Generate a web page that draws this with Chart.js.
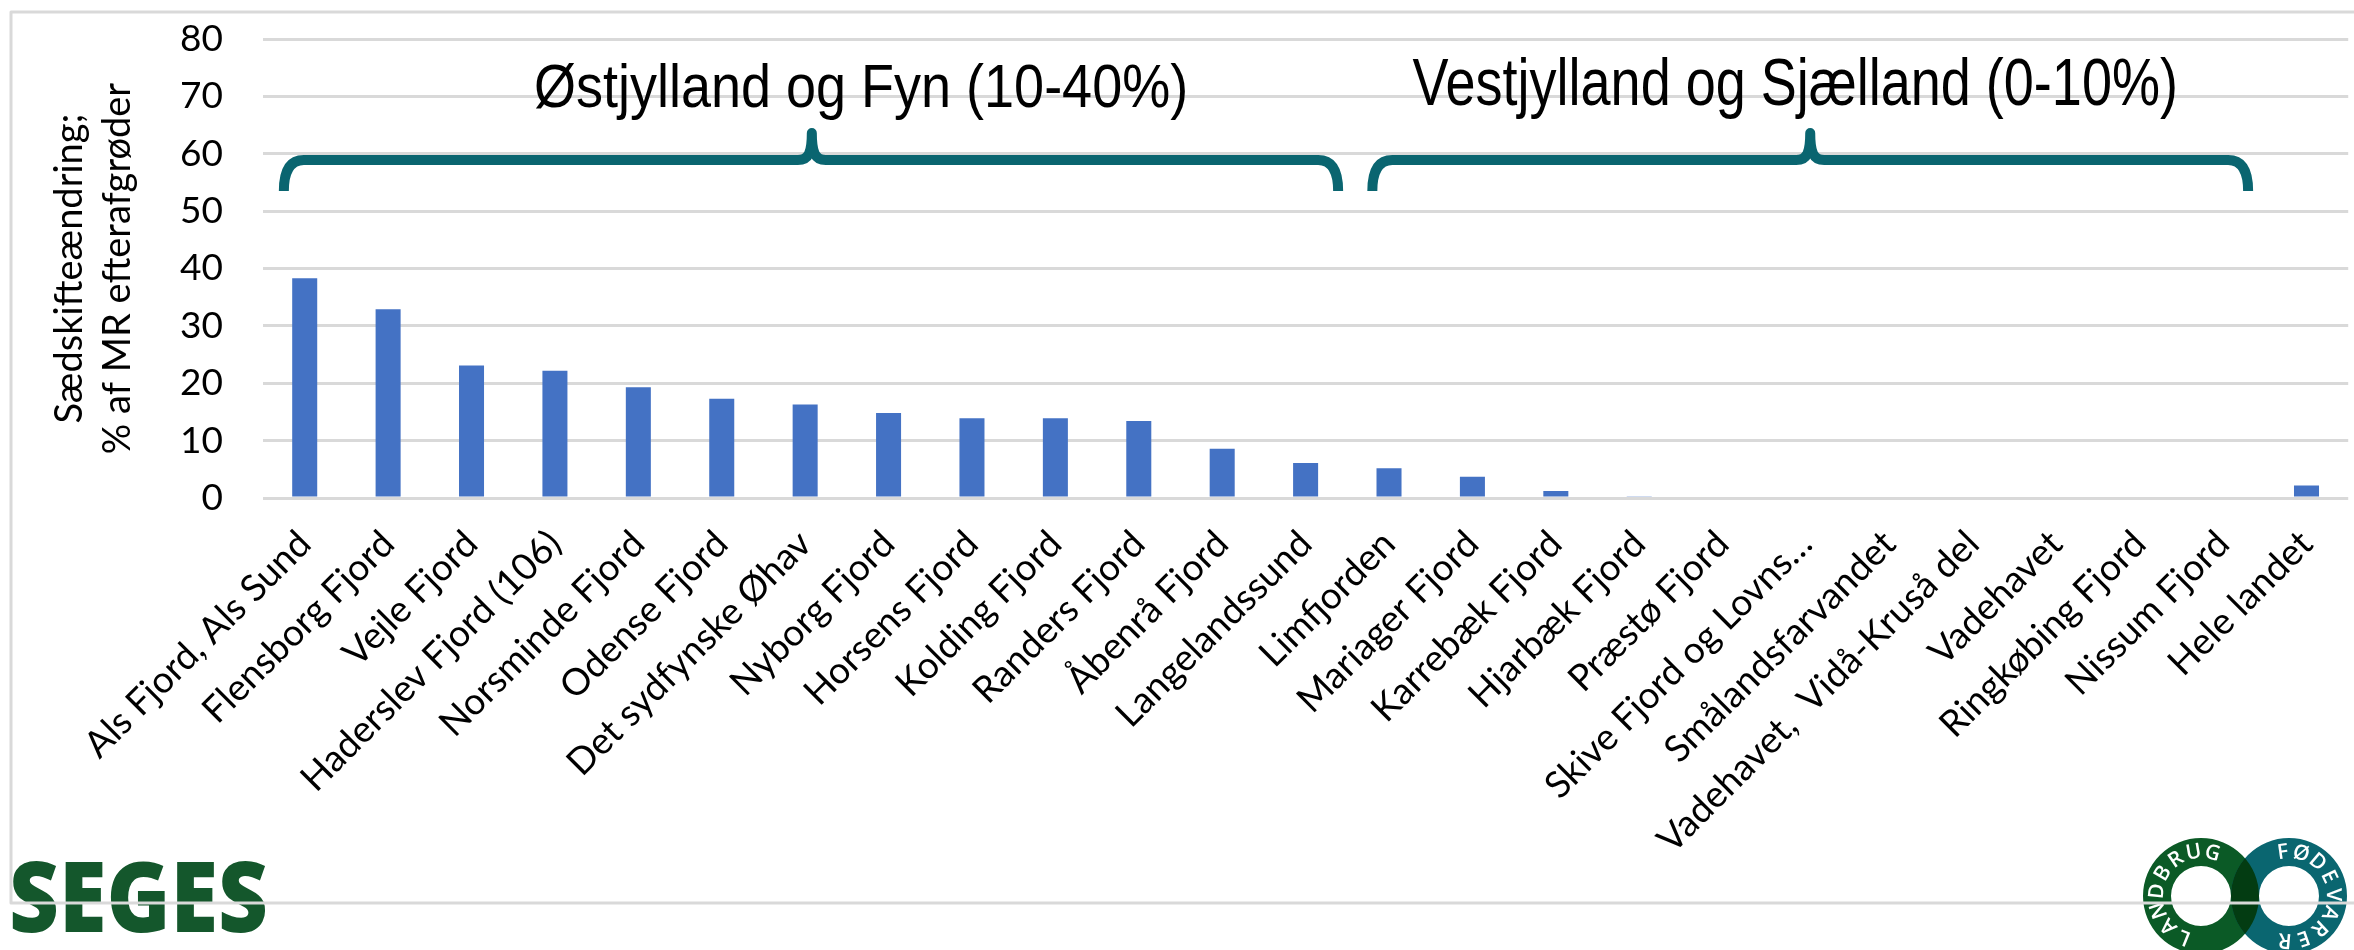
<!DOCTYPE html>
<html>
<head>
<meta charset="utf-8">
<script src="https://cdn.jsdelivr.net/npm/chart.js@4.4.1/dist/chart.umd.min.js"></script>
<style>
  html, body { margin: 0; padding: 0; background: #fff; }
  canvas { display: block; }
</style>
</head>
<body>
<canvas id="myChart" width="2354" height="950"></canvas>
<script>
const categories = [
    'Als Fjord, Als Sund', 'Flensborg Fjord', 'Vejle Fjord', 'Haderslev Fjord (106)',
    'Norsminde Fjord', 'Odense Fjord', 'Det sydfynske Øhav', 'Nyborg Fjord',
    'Horsens Fjord', 'Kolding Fjord', 'Randers Fjord', 'Åbenrå Fjord',
    'Langelandssund', 'Limfjorden', 'Mariager Fjord', 'Karrebæk Fjord',
    'Hjarbæk Fjord', 'Præstø Fjord', 'Skive Fjord og Lovns…', 'Smålandsfarvandet',
    'Vadehavet,  Vidå-Kruså del', 'Vadehavet', 'Ringkøbing Fjord', 'Nissum Fjord',
    'Hele landet'
];
const values = [
    38.3, 32.9, 23.1, 22.2, 19.3, 17.3, 16.3, 14.8,
    13.9, 13.9, 13.4, 8.6, 6.1, 5.2, 3.7, 1.2,
    0.2, 0, 0, 0, 0, 0, 0, 0, 2.2
];
const yTicks = [0, 10, 20, 30, 40, 50, 60, 70, 80];
const yTitle = ['Sædskifteændring;', '% af MR efterafgrøder'];

// brace groups (in category index units on x, value units on y)
const groupLabels = ['Østjylland og Fyn (10-40%)', 'Vestjylland og Sjælland (0-10%)'];
const groupFrom = [-0.25, 12.8];
const groupTo = [12.39, 23.3];
const groupPeak = [6.08, 18.05];
const groupTextAt = [6.67, 17.87];

const braceColor = '#0a6570';
const gridColor = '#d9d9d9';

let braces = {
    id: 'braces',
    afterDraw(chart) {
        const ctx = chart.ctx;
        const x = chart.scales.x, y = chart.scales.y;
        const yEnd = y.getPixelForValue(53.5);
        const yBar = y.getPixelForValue(58.9);
        const yPeak = y.getPixelForValue(63.6);
        ctx.save();
        ctx.strokeStyle = braceColor;
        ctx.lineWidth = 10;
        ctx.lineJoin = 'round';
        for (let i = 0; i < groupLabels.length; i++) {
            const x0 = x.getPixelForValue(groupFrom[i]);
            const x1 = x.getPixelForValue(groupTo[i]);
            const xm = x.getPixelForValue(groupPeak[i]);
            ctx.beginPath();
            ctx.moveTo(x0, yEnd);
            ctx.quadraticCurveTo(x0, yBar, x0 + 20, yBar);
            ctx.lineTo(xm - 14, yBar);
            ctx.bezierCurveTo(xm - 3, yBar, xm, yBar - 8, xm, yPeak);
            ctx.bezierCurveTo(xm, yBar - 8, xm + 3, yBar, xm + 14, yBar);
            ctx.lineTo(x1 - 20, yBar);
            ctx.quadraticCurveTo(x1, yBar, x1, yEnd);
            ctx.stroke();
        }
        // group captions
        ctx.fillStyle = '#000';
        ctx.textAlign = 'center';
        ctx.textBaseline = 'alphabetic';
        const sizes = [54, 54];
        const stretch = [1.13, 1.24];
        const base = [107, 105];
        for (let i = 0; i < groupLabels.length; i++) {
            ctx.save();
            ctx.translate(x.getPixelForValue(groupTextAt[i]), base[i]);
            ctx.scale(1, stretch[i]);
            ctx.font = sizes[i] + 'px "Liberation Sans", Arial, sans-serif';
            ctx.fillText(groupLabels[i], 0, 0);
            ctx.restore();
        }
        // outer frame
        ctx.strokeStyle = gridColor;
        ctx.lineWidth = 3;
        ctx.strokeRect(11, 12, 2400, 891);
        ctx.restore();
    }
};

let logos = {
    id: 'logos',
    beforeDraw(chart) {
        const ctx = chart.ctx;
        ctx.save();
        // SEGES
        ctx.fillStyle = '#14572c';
        ctx.font = '800 92px "Open Sans", "DejaVu Sans", sans-serif';
        ctx.textBaseline = 'alphabetic';
        const w = ctx.measureText('SEGES').width;
        ctx.translate(9, 932);
        ctx.scale(259 / w, 1.05);
        ctx.fillText('SEGES', 0, 0);
        ctx.restore();

        // Landbrug & Fødevarer rings
        const cy = 896, R = 58, r = 30;
        const c1 = 2201, c2 = 2289;
        ctx.save();
        const ring = (cx, col) => {
            ctx.beginPath();
            ctx.arc(cx, cy, R, 0, Math.PI * 2);
            ctx.arc(cx, cy, r, 0, Math.PI * 2, true);
            ctx.fillStyle = col;
            ctx.fill('evenodd');
        };
        ring(c1, '#0b5a26');
        ring(c2, '#0a6670');
        // overlap
        ctx.save();
        ctx.beginPath();
        ctx.arc(c1, cy, R, 0, Math.PI * 2);
        ctx.arc(c1, cy, r, 0, Math.PI * 2, true);
        ctx.clip('evenodd');
        ctx.beginPath();
        ctx.arc(c2, cy, R, 0, Math.PI * 2);
        ctx.arc(c2, cy, r, 0, Math.PI * 2, true);
        ctx.fillStyle = '#033c12';
        ctx.fill('evenodd');
        ctx.restore();
        // ring text
        ctx.fillStyle = '#fff';
        ctx.font = '600 21px "Open Sans", "DejaVu Sans", sans-serif';
        ctx.textAlign = 'center';
        ctx.textBaseline = 'middle';
        const arcText = (cx, txt, a0, a1) => {
            const n = txt.length;
            for (let i = 0; i < n; i++) {
                const a = a0 + (a1 - a0) * i / (n - 1);
                ctx.save();
                ctx.translate(cx + 44 * Math.cos(a), cy + 44 * Math.sin(a));
                ctx.rotate(a + Math.PI / 2);
                ctx.fillText(txt[i], 0, 0);
                ctx.restore();
            }
        };
        const d = Math.PI / 180;
        arcText(c1, 'LANDBRUG', 112 * d, 285 * d);
        arcText(c2, 'FØDEVARER', 262 * d, 455 * d);
        ctx.restore();
    }
};

let ctx = document.getElementById('myChart').getContext('2d');
let chart = new Chart(ctx, {
    type: 'bar',
    data: {
        labels: categories,
        datasets: [{
            data: values,
            backgroundColor: '#4472c4',
            barPercentage: 0.3,
            categoryPercentage: 1
        }]
    },
    options: {
        responsive: false,
        animation: false,
        layout: { padding: { left: 0, top: 39, right: 5, bottom: 52 } },
        plugins: { legend: { display: false }, tooltip: { enabled: false } },
        scales: {
            x: {
                grid: { display: false },
                border: { display: false },
                ticks: {
                    autoSkip: false,
                    minRotation: 45,
                    maxRotation: 45,
                    padding: 16,
                    color: '#000',
                    font: { family: 'Lato', size: 37 }
                },
                afterFit: (scale) => { scale.height = 400; }
            },
            y: {
                min: 0,
                max: 80,
                afterBuildTicks: (scale) => { scale.ticks = yTicks.map(v => ({ value: v })); },
                grid: {
                    color: gridColor,
                    lineWidth: 3,
                    drawTicks: true,
                    tickLength: 40,
                    tickColor: 'rgba(0,0,0,0)'
                },
                border: { display: false },
                ticks: {
                    padding: 0,
                    color: '#000',
                    font: { family: 'Lato', size: 37 }
                },
                title: {
                    display: true,
                    text: yTitle,
                    color: '#000',
                    padding: { top: 46, bottom: 0 },
                    font: { family: 'Lato', size: 38, lineHeight: 1.263 }
                },
                afterFit: (scale) => { scale.width = 263; }
            }
        }
    },
    plugins: [logos, braces]
});
</script>
</body>
</html>
